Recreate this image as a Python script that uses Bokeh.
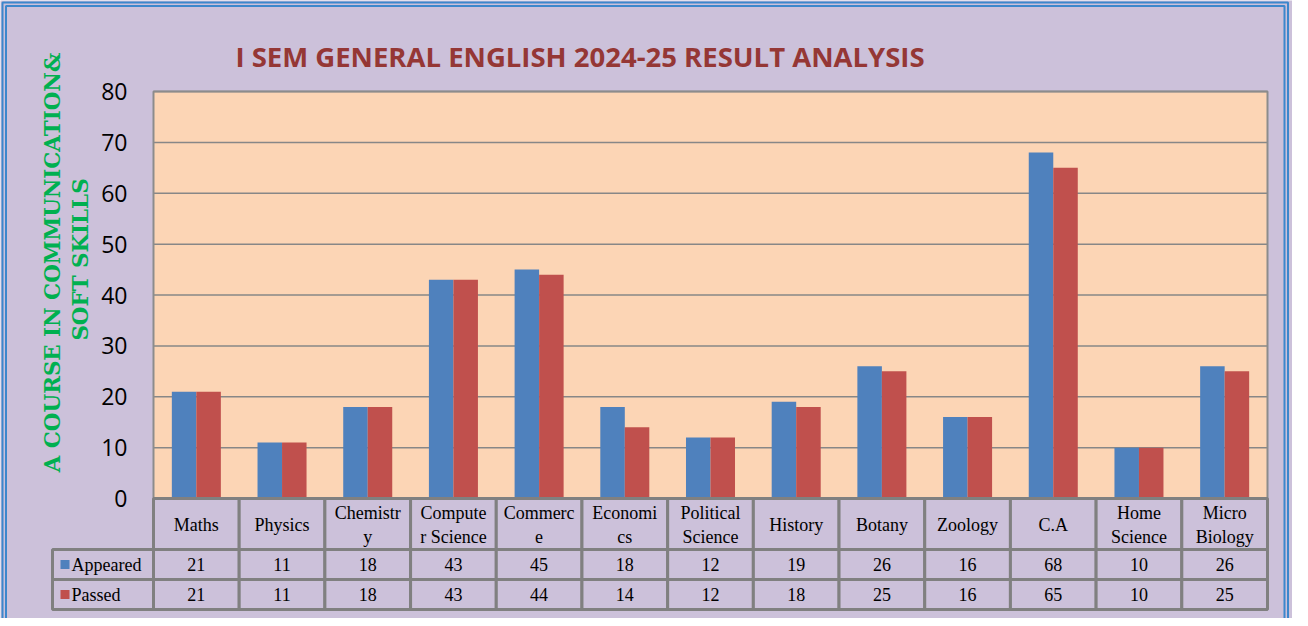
import numpy as np
from bokeh.plotting import figure
from bokeh.models import Range1d, LinearAxis, FixedTicker
from bokeh.embed import file_html
from bokeh.resources import INLINE
from bokeh.core.properties import value

# ---------------- data ----------------
categories = ["Maths", "Physics", "Chemistry", "Computer Science", "Commerce",
              "Economics", "Political Science", "History", "Botany", "Zoology",
              "C.A", "Home Science", "Micro Biology"]
header_labels = ["Maths", "Physics", "Chemistr\ny", "Compute\nr Science", "Commerc\ne",
                 "Economi\ncs", "Political\nScience", "History", "Botany", "Zoology",
                 "C.A", "Home\nScience", "Micro\nBiology"]
appeared = [21, 11, 18, 43, 45, 18, 12, 19, 26, 16, 68, 10, 26]
passed = [21, 11, 18, 43, 44, 14, 12, 18, 25, 16, 65, 10, 25]
series = ["Appeared", "Passed"]
y_ticks = [0, 10, 20, 30, 40, 50, 60, 70, 80]
title_text = "I SEM GENERAL ENGLISH 2024-25 RESULT ANALYSIS"
ylabel_lines = ["A COURSE IN COMMUNICATION&", "SOFT SKILLS"]

# ---------------- style ----------------
LAV = "#CCC1DA"
PEACH = "#FCD5B5"
BLUE = "#4F81BD"
RED = "#C0504D"
GRID = "#878787"
TBL = "#808080"
EDGE = "#3C87CC"
colors = [BLUE, RED]

n = len(categories)
ymax = y_ticks[-1]
# page-pixel layout of the plot area
PL, PR, PT, PB = 161, 1275, 99, 506
unit = (PR - PL) / n
ppu = (PB - PT) / ymax

def X(px):
    return (px - PL) / unit

def Y(py):
    return (PB - py) / ppu

p = figure(width=1292, height=618,
           x_range=Range1d(X(8), X(1300)), y_range=Range1d(Y(626), Y(8)),
           output_backend="svg", toolbar_location=None,
           x_axis_location=None, y_axis_location=None, min_border=0,
           background_fill_color=LAV, border_fill_color=LAV, outline_line_color=None)
p.grid.visible = False
for g in p.renderers:
    pass

# plot area
p.quad(left=[0], right=[n], bottom=[0], top=[ymax], fill_color=PEACH, line_color=None)
p.segment(x0=[0] * len(y_ticks), x1=[n] * len(y_ticks), y0=y_ticks, y1=y_ticks,
          line_color=GRID, line_width=1.5)

idx = np.arange(n) + 0.5
bw = 0.286
for k, (vals, c) in enumerate(zip([appeared, passed], colors)):
    off = (-0.5 + k) * bw
    p.vbar(x=idx + off, width=bw, top=vals, bottom=0, fill_color=c, line_color=None)

p.quad(left=[0], right=[n], bottom=[0], top=[ymax], fill_color=None,
       line_color="#8C8C8C", line_width=2)

# y axis placed at the plot-area edge
ax = LinearAxis(fixed_location=0, ticker=FixedTicker(ticks=y_ticks))
ax.bounds = (0, ymax)
ax.axis_line_color = None
ax.major_tick_line_color = None
ax.minor_tick_line_color = None
ax.major_tick_out = 0
ax.major_tick_in = 0
ax.major_label_standoff = 26
ax.major_label_text_font = "Open Sans"
ax.major_label_text_font_size = "23px"
ax.major_label_text_color = "black"
p.add_layout(ax, "left")
p.grid.visible = False

# title and axis title
p.text(x=[X(587.5)], y=[Y(64)], text=[title_text], text_align="center",
       text_baseline="middle", text_font=value("Open Sans"), text_font_style="bold",
       text_font_size="27.5px", text_color="#953735")
p.text(x=[X(60)], y=[Y(270)], text=[ylabel_lines[0]], angle=np.pi / 2,
       text_align="center", text_baseline="middle", text_font=value("DejaVu Serif"),
       text_font_style="bold", text_font_size="21.4px", text_color="#00B050")
p.text(x=[X(88)], y=[Y(267)], text=[ylabel_lines[1]], angle=np.pi / 2,
       text_align="center", text_baseline="middle", text_font=value("DejaVu Serif"),
       text_font_style="bold", text_font_size="21.4px", text_color="#00B050")

# ---------------- data table ----------------
rows_y = [PB, 557, 587, 617]
legend_left = X(60)
FONT = value("Liberation Serif")
p.quad(left=np.arange(n), right=np.arange(n) + 1,
       top=[Y(rows_y[0])] * n, bottom=[Y(rows_y[1])] * n,
       fill_color=LAV, line_color=TBL, line_width=3)
p.text(x=idx, y=[Y((rows_y[0] + rows_y[1]) / 2 + 1)] * n, text=header_labels,
       text_align="center", text_baseline="middle", text_font=FONT,
       text_font_size="18px", text_color="black", text_line_height=1.2)
for r, (s, vals, c) in enumerate(zip(series, [appeared, passed], colors)):
    top, bot = rows_y[r + 1], rows_y[r + 2]
    p.quad(left=[legend_left] + list(range(n)), right=[0] + list(range(1, n + 1)),
           top=[Y(top)] * (n + 1), bottom=[Y(bot)] * (n + 1),
           fill_color=LAV, line_color=TBL, line_width=3)
    ym = Y((top + bot) / 2)
    p.text(x=idx, y=[ym] * n, text=[str(v) for v in vals], text_align="center",
           text_baseline="middle", text_font=FONT, text_font_size="18px",
           text_color="black")
    p.scatter(x=[X(72.5)], y=[ym], marker="square", size=9, fill_color=c, line_color=None)
    p.text(x=[X(79)], y=[ym], text=[s], text_align="left", text_baseline="middle",
           text_font=FONT, text_font_size="18px", text_color="black")

# double blue frame
for off in (10, 13.5):
    p.quad(left=[X(off)], right=[X(1308 - off - 2.5)], top=[Y(off)], bottom=[Y(700)],
           fill_color=None, line_color=EDGE, line_width=2)

open("out.html", "w").write(file_html(p, INLINE))
